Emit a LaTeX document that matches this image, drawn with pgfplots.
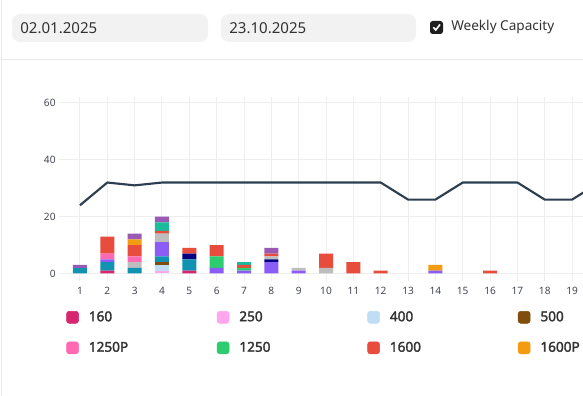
\documentclass[border=0pt]{standalone}
\usepackage{fontspec}
\setmainfont{Noto Sans}[AutoFakeBold=2.2]
\usepackage{pgfplots}
\usepackage{pgfplotstable}
\pgfplotsset{compat=1.18}

\definecolor{cA}{RGB}{214,38,110}   % 160
\definecolor{cB}{RGB}{255,166,238}  % 250
\definecolor{cC}{RGB}{191,221,245}  % 400
\definecolor{cD}{RGB}{128,77,13}    % 500
\definecolor{cE}{RGB}{17,146,176}   % teal blue
\definecolor{cF}{RGB}{139,92,246}   % violet
\definecolor{cG}{RGB}{0,0,128}      % navy
\definecolor{cH}{RGB}{189,189,189}  % gray
\definecolor{cI}{RGB}{255,105,180}  % 1250P
\definecolor{cJ}{RGB}{46,204,113}   % 1250
\definecolor{cK}{RGB}{231,76,60}    % 1600
\definecolor{cL}{RGB}{243,156,18}   % 1600P
\definecolor{cM}{RGB}{26,188,156}   % teal green
\definecolor{cN}{RGB}{155,89,182}   % purple
\definecolor{slate}{RGB}{44,62,80}
\definecolor{gridc}{RGB}{238,238,238}
\definecolor{cardb}{RGB}{232,232,232}
\definecolor{boxg}{RGB}{242,242,242}
\definecolor{txt}{RGB}{51,51,51}
\definecolor{tick}{RGB}{68,72,82}

\pgfplotstableread{
w  a b c d e f g h i j k l m n
1  0 0 0 0 2 0 0 0 0 0 0 0 0 1
2  1 0 0 0 3 1 0 0 2 0 6 0 0 0
3  0 0 0 0 2 0 0 2 2 0 4 2 0 2
4  0 1 2 1 2 5 0 3 0 0 1 0 3 2
5  1 0 0 0 4 0 2 0 0 0 2 0 0 0
6  0 0 0 0 0 2 0 0 0 4 4 0 0 0
7  0 0 0 0 0 1 0 0 0 1 1 0 1 0
8  0 0 0 0 0 4 1 1 0 0 1 0 0 2
9  0 0 0 0 0 1 0 1 0 0 0 0 0 0
10 0 0 0 0 0 0 0 2 0 0 5 0 0 0
11 0 0 0 0 0 0 0 0 0 0 4 0 0 0
12 0 0 0 0 0 0 0 0 0 0 1 0 0 0
13 0 0 0 0 0 0 0 0 0 0 0 0 0 0
14 0 0 0 0 0 1 0 0 0 0 0 2 0 0
15 0 0 0 0 0 0 0 0 0 0 0 0 0 0
16 0 0 0 0 0 0 0 0 0 0 1 0 0 0
17 0 0 0 0 0 0 0 0 0 0 0 0 0 0
18 0 0 0 0 0 0 0 0 0 0 0 0 0 0
19 0 0 0 0 0 0 0 0 0 0 0 0 0 0
}\data

\newcommand{\legsq}[1]{\addlegendimage{legend image code/.code={\fill[#1, rounded corners=2pt] (0pt,-4.5pt) rectangle (9pt,4.5pt);}}}
\newcommand{\lt}[1]{\makebox[96pt][l]{\textbf{#1}}}
\newcommand{\ltl}[1]{\makebox[30pt][l]{\textbf{#1}}}

\begin{document}
\begin{tikzpicture}[x=0.75pt,y=0.75pt]
\useasboundingbox (0,0) rectangle (583,396);
\clip (0,0) rectangle (583,396);
\fill[white] (0,0) rectangle (583,396);
% card
\draw[cardb, line width=0.75pt] (1.5,-5) -- (1.5,401);
\draw[cardb, line width=0.75pt] (1.5,336.5) -- (590,336.5);
% header
\fill[boxg, rounded corners=6pt] (12,354) rectangle (208,382);
\fill[boxg, rounded corners=6pt] (221,354) rectangle (416,382);
\node[anchor=west, inner sep=0pt, text=txt, font=\fontsize{11.3}{13}\selectfont] at (20,368) {02.01.2025};
\node[anchor=west, inner sep=0pt, text=txt, font=\fontsize{11.3}{13}\selectfont] at (229,368) {23.10.2025};
\fill[black!88, rounded corners=2pt] (430,362) rectangle (443,375);
\draw[white, line width=1.2pt] (433.3,368.7) -- (435.8,366) -- (440,371.5);
\node[anchor=west, inner sep=0pt, text=txt, font=\fontsize{10.2}{12}\selectfont] at (451,369) {Weekly Capacity};

\begin{axis}[
  at={(49.725pt,91.875pt)}, anchor=south west,
  scale only axis, width=391.65pt, height=132.4pt,
  xmin=0.5, xmax=19.6, ymin=0, ymax=62.1,
  ybar stacked, bar width=10.5pt,
  xtick={1,...,19}, ytick={0,20,40,60},
  grid=major, grid style={draw=gridc, line width=0.75pt},
  axis x line*=bottom, axis y line*=left, axis line style={draw=none},
  tick align=outside, major tick length=5.5pt,
  tick style={draw=gridc, line width=0.75pt},
  /pgf/number format/assume math mode=true,
  ticklabel style={font=\fontsize{7.6}{9}\selectfont, text=tick},
  xticklabel style={yshift=-1pt},
  yticklabel style={xshift=1pt},
  legend columns=4,
  legend cell align=left,
  legend style={at={(axis description cs:0,-0.2125)}, anchor=north west, draw=none, fill=none,
    inner sep=0pt, outer sep=0pt, row sep=13.5pt,
    font=\fontsize{10.2}{12}\selectfont,
    nodes={inner sep=0pt, text=txt},
    /tikz/every odd column/.style={column sep=7.5pt},
    /tikz/every even column/.style={column sep=0pt}},
]
\legsq{cA}\legsq{cB}\legsq{cC}\legsq{cD}
\legsq{cI}\legsq{cJ}\legsq{cK}\legsq{cL}
\legend{\lt{160},\lt{250},\lt{400},\ltl{500},\lt{1250P},\lt{1250},\lt{1600},\ltl{1600P}}
\addplot[fill=cA, draw=none, forget plot] table[x=w,y=a] {\data};
\addplot[fill=cB, draw=none, forget plot] table[x=w,y=b] {\data};
\addplot[fill=cC, draw=none, forget plot] table[x=w,y=c] {\data};
\addplot[fill=cD, draw=none, forget plot] table[x=w,y=d] {\data};
\addplot[fill=cE, draw=none, forget plot] table[x=w,y=e] {\data};
\addplot[fill=cF, draw=none, forget plot] table[x=w,y=f] {\data};
\addplot[fill=cG, draw=none, forget plot] table[x=w,y=g] {\data};
\addplot[fill=cH, draw=none, forget plot] table[x=w,y=h] {\data};
\addplot[fill=cI, draw=none, forget plot] table[x=w,y=i] {\data};
\addplot[fill=cJ, draw=none, forget plot] table[x=w,y=j] {\data};
\addplot[fill=cK, draw=none, forget plot] table[x=w,y=k] {\data};
\addplot[fill=cL, draw=none, forget plot] table[x=w,y=l] {\data};
\addplot[fill=cM, draw=none, forget plot] table[x=w,y=m] {\data};
\addplot[fill=cN, draw=none, forget plot] table[x=w,y=n] {\data};
\end{axis}

\begin{axis}[
  at={(49.725pt,91.875pt)}, anchor=south west,
  scale only axis, width=391.65pt, height=132.4pt,
  xmin=0.5, xmax=19.6, ymin=0, ymax=62.1,
  hide axis,
]
\addplot[slate, line width=1.6pt, mark=none, line join=round] coordinates {
(1,24) (2,32) (3,31) (4,32) (5,32) (6,32) (7,32) (8,32) (9,32) (10,32)
(11,32) (12,32) (13,26) (14,26) (15,32) (16,32) (17,32) (18,26) (19,26) (20,32)};
\end{axis}
\end{tikzpicture}
\end{document}
